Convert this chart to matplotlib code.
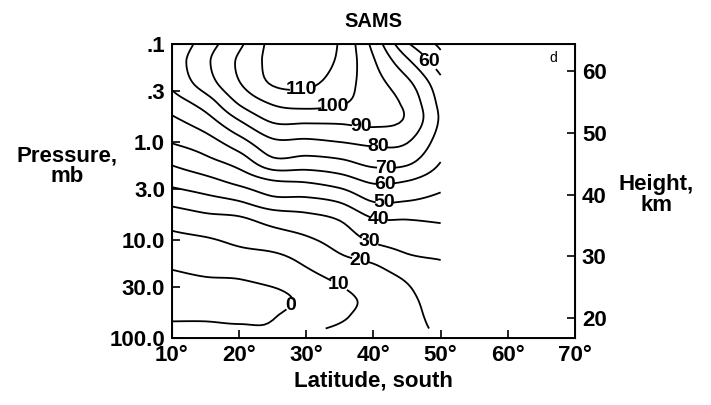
import numpy as np
import matplotlib
matplotlib.use("Agg")
import matplotlib.pyplot as plt

plt.rcParams['font.family'] = ['Liberation Sans', 'DejaVu Sans']
plt.rcParams['font.weight'] = 'bold'

# grid: latitude (deg S) x pressure (mb)
latitudes = [10, 15, 20, 25, 30, 35, 40, 45, 50]
pressures = [0.1, 0.15, 0.25, 0.4, 0.6, 1.0, 1.6, 2.5, 4, 6, 10, 16, 25, 40, 60, 80]
wind = [
    [71, 85, 98, 113, 117, 109, 87, 61.5, 48],
    [74, 88, 101.5, 113, 116, 108, 91, 72, 54],
    [72, 85, 99.5, 111, 112, 105, 94, 82.5, 63],
    [65, 74.5, 91, 101, 103.5, 101, 95, 87.5, 67],
    [58, 66, 80, 91.5, 92, 92, 93, 88.5, 68.5],
    [50.5, 55.6, 66, 78, 78, 80, 82, 80.5, 65],
    [41.5, 47, 54, 67, 66, 68, 73, 72, 60],
    [33, 37, 43, 49.5, 51, 55, 61.5, 60, 54],
    [23, 26.5, 30, 37, 37.5, 41, 50.5, 50, 47],
    [14, 17.5, 19, 24, 27, 31, 40, 40.5, 41.5],
    [7.5, 9, 12, 15, 18.5, 24, 31.5, 34, 35],
    [2.5, 4.5, 6, 7, 12, 18, 21.5, 28, 30],
    [-2, -0.5, 0, 2.5, 7, 11.5, 15, 21, 28],
    [-4, -4, -3.5, -3, 2.5, 8, 12, 17.5, 26],
    [-1, -1, -1.5, -0.5, 5, 9, 12.5, 16.5, 24],
    [1.5, 1.5, 1, 1, 8, 11, 13, 16.5, 22],
]
levels = [0, 10, 20, 30, 40, 50, 60, 70, 80, 90, 100, 110]

lat_ticks = [10, 20, 30, 40, 50, 60, 70]
pressure_ticks = [0.1, 0.3, 1, 3, 10, 30, 100]
pressure_labels = ['.1', '.3', '1.0', '3.0', '10.0', '30.0', '100.0']
height_ticks = [20, 30, 40, 50, 60]

# where the contour labels sit (lat, mb)
label_spots = [(29.3, 0.275), (34.0, 0.44), (38.1, 0.67), (40.7, 1.12),
               (41.8, 1.8), (41.7, 2.62), (41.6, 4.1), (40.8, 6.1),
               (39.5, 10), (38.1, 15.3), (35.0, 26.8), (27.8, 48.3),
               (48.4, 0.146)]


def z2p(z):
    return 1135 * np.exp(-np.asarray(z) / 6.9)


def refine(z, factor, axis):
    # catmull-rom resampling along one axis, only to draw smooth lines
    z = np.moveaxis(np.asarray(z, float), axis, 0)
    n = z.shape[0]
    t = np.linspace(0, n - 1, (n - 1) * factor + 1)
    i = np.clip(np.floor(t).astype(int), 0, n - 2)
    u = (t - i).reshape(-1, *([1] * (z.ndim - 1)))
    p0 = z[np.clip(i - 1, 0, n - 1)]
    p1 = z[i]
    p2 = z[i + 1]
    p3 = z[np.clip(i + 2, 0, n - 1)]
    out = 0.5 * (2 * p1 + (-p0 + p2) * u
                 + (2 * p0 - 5 * p1 + 4 * p2 - p3) * u ** 2
                 + (-p0 + 3 * p1 - 3 * p2 + p3) * u ** 3)
    return np.moveaxis(out, 0, axis)


fig = plt.figure(figsize=(7.11, 4.05), dpi=100)
ax = fig.add_axes([0.2419, 0.1654, 0.5668, 0.7259])

logp = np.log10(pressures)
k = 8
zz = refine(refine(wind, k, 0), k, 1)
yy = refine(logp, k, 0)
xx = refine(latitudes, k, 0)
cs = ax.contour(xx, yy, zz, levels=levels, colors='black', linewidths=1.3)
spots = [(la, np.log10(p)) for la, p in label_spots]
texts = ax.clabel(cs, fmt='%d', fontsize=14, inline=True, inline_spacing=2,
                  manual=spots)
for t in texts:
    t.set_rotation(0)

ax.set_xlim(10, 70)
ax.set_ylim(2, -1)
ax.set_xticks(lat_ticks)
ax.set_xticklabels([f"{t}\u00b0" for t in lat_ticks])
ax.set_yticks(np.log10(pressure_ticks))
ax.set_yticklabels(pressure_labels)
ax.tick_params(direction='in', length=6, width=1.2, labelsize=16, pad=5)
for s in ax.spines.values():
    s.set_linewidth(1.4)

ax2 = ax.twinx()
ax2.set_ylim(2, -1)
ax2.set_yticks(np.log10(z2p(height_ticks)))
ax2.set_yticklabels([str(h) for h in height_ticks])
ax2.tick_params(direction='in', length=6, width=1.2, labelsize=16, pad=5)

ax.set_title('SAMS', fontsize=14.5, fontweight='bold', pad=12)
ax.set_xlabel('Latitude, south', fontsize=16, fontweight='bold', labelpad=3)
fig.text(0.094, 0.59, 'Pressure,\nmb', ha='center', va='center',
         fontsize=16, linespacing=1.0)
fig.text(0.923, 0.518, 'Height,\nkm', ha='center', va='center',
         fontsize=16, linespacing=1.0)
ax.text(0.945, 0.952, 'd', transform=ax.transAxes, fontsize=10,
        fontweight='normal', ha='center', va='center')

fig.savefig('out.png', dpi=100)
